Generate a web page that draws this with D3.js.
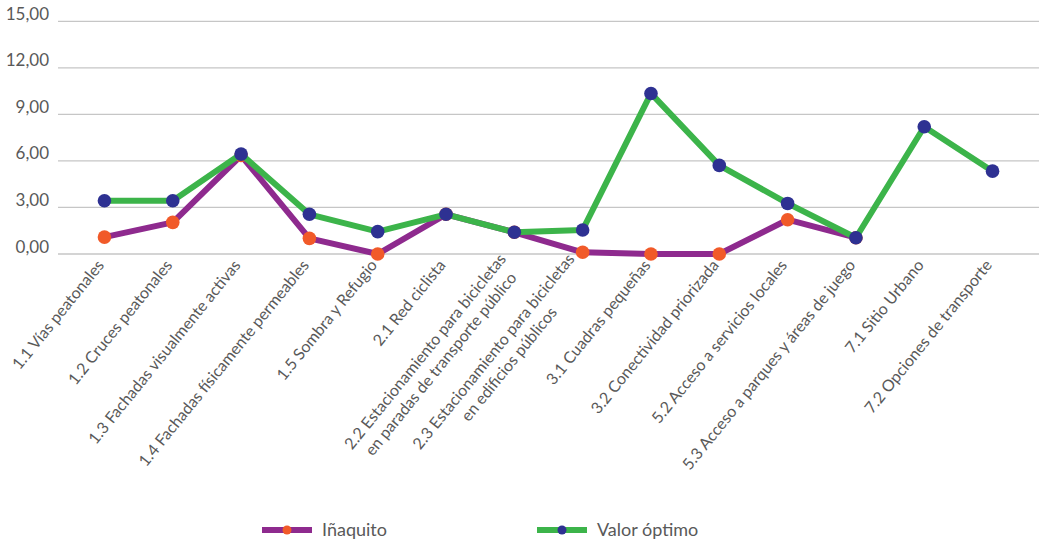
<!DOCTYPE html>
<html>
<head>
<meta charset="utf-8">
<script src="https://cdn.jsdelivr.net/npm/d3@7"></script>
<style>
  body { margin: 0; background: #ffffff; }
  svg { display: block; }
  text { font-family: Lato, "Open Sans", sans-serif; fill: #595959; }
</style>
</head>
<body>
<svg id="chart" width="1039" height="542"></svg>
<script>
// Indicator categories (line breaks mark two-line labels)
const categories = [
  "1.1 Vías peatonales",
  "1.2 Cruces peatonales",
  "1.3 Fachadas visualmente activas",
  "1.4 Fachadas físicamente permeables",
  "1.5 Sombra y Refugio",
  "2.1 Red ciclista",
  "2.2 Estacionamiento para bicicletas\nen paradas de transporte público",
  "2.3 Estacionamiento para bicicletas\nen edificios públicos",
  "3.1 Cuadras pequeñas",
  "3.2 Conectividad priorizada",
  "5.2 Acceso a servicios locales",
  "5.3 Acceso a parques y áreas de juego",
  "7.1 Sitio Urbano",
  "7.2 Opciones de transporte"
];

// Scores of the Iñaquito area (no value for 7.1 and 7.2)
const inaquito = [1.09, 2.04, 6.35, 1.01, 0.0, 2.56, 1.40, 0.11, 0.0, 0.0, 2.21, 1.05, null, null];

// Optimal value per indicator
const valorOptimo = [3.43, 3.43, 6.44, 2.56, 1.44, 2.56, 1.40, 1.55, 10.35, 5.71, 3.26, 1.05, 8.20, 5.34];

// Value axis ticks
const yTicks = [0, 3, 6, 9, 12, 15];

const seriesNames = ["Iñaquito", "Valor óptimo"];

const esLocale = d3.formatLocale({ decimal: ",", thousands: ".", grouping: [3], currency: ["$", ""] });
const fmt = esLocale.format(".2f");

const svg = d3.select("#chart");

const plotLeft = 58, plotRight = 1039;
const x = d3.scalePoint().domain(categories).range([plotLeft, plotRight]).padding(0.68);
const y = d3.scaleLinear().domain([0, 15]).range([254, 21.3]);

// Horizontal gridlines
svg.append("g")
  .selectAll("line")
  .data(yTicks)
  .join("line")
  .attr("x1", plotLeft)
  .attr("x2", plotRight)
  .attr("y1", d => y(d))
  .attr("y2", d => y(d))
  .attr("stroke", "#c6c6c6")
  .attr("stroke-width", 1.3);

// Value axis labels
svg.append("g")
  .selectAll("text")
  .data(yTicks)
  .join("text")
  .attr("x", 49)
  .attr("y", d => y(d) - 1.5)
  .attr("text-anchor", "end")
  .attr("font-size", 17)
  .text(d => fmt(d));

// Category labels, rotated, multi-line labels centred on each other
const labelGroups = svg.append("g")
  .selectAll("g")
  .data(categories)
  .join("g")
  .attr("transform", d => `translate(${x(d) - 4},${262}) rotate(-51)`);

labelGroups.each(function (d) {
  const g = d3.select(this);
  const lines = d.split("\n");
  const lh = 20;
  const texts = lines.map((ln, i) =>
    g.append("text")
      .attr("text-anchor", "end")
      .attr("font-size", 16)
      .attr("y", (i - (lines.length - 1) / 2) * lh)
      .attr("dy", "0.35em")
      .text(ln)
  );
  const widths = texts.map(t => t.node().getComputedTextLength());
  const maxW = d3.max(widths);
  texts.forEach((t, i) => t.attr("x", -(maxW - widths[i]) / 2));
});

// Series lines and markers
const series = [
  { name: seriesNames[0], values: inaquito, line: "#8e2a8e", marker: "#f15a29" },
  { name: seriesNames[1], values: valorOptimo, line: "#3cb44a", marker: "#2e3192" }
];

const lineGen = d3.line()
  .defined(d => d.v != null)
  .x(d => x(d.c))
  .y(d => y(d.v));

series.forEach(s => {
  const pts = categories.map((c, i) => ({ c, v: s.values[i] }));
  const g = svg.append("g");
  g.append("path")
    .datum(pts)
    .attr("d", lineGen)
    .attr("fill", "none")
    .attr("stroke", s.line)
    .attr("stroke-width", 6)
    .attr("stroke-linejoin", "round")
    .attr("stroke-linecap", "round");
  g.selectAll("circle")
    .data(pts.filter(p => p.v != null))
    .join("circle")
    .attr("cx", p => x(p.c))
    .attr("cy", p => y(p.v))
    .attr("r", 6.8)
    .attr("fill", s.marker);
});

// Legend
const legendX = [262, 537];
const legend = svg.append("g")
  .selectAll("g")
  .data(series)
  .join("g")
  .attr("transform", (d, i) => `translate(${legendX[i]},530)`);

legend.append("line")
  .attr("x1", 0).attr("x2", 50)
  .attr("stroke", d => d.line)
  .attr("stroke-width", 6);
legend.append("circle")
  .attr("cx", 25).attr("r", 4.5)
  .attr("fill", d => d.marker);
legend.append("text")
  .attr("x", 60)
  .attr("dy", "0.35em")
  .attr("font-size", 18)
  .text(d => d.name);
</script>
</body>
</html>
